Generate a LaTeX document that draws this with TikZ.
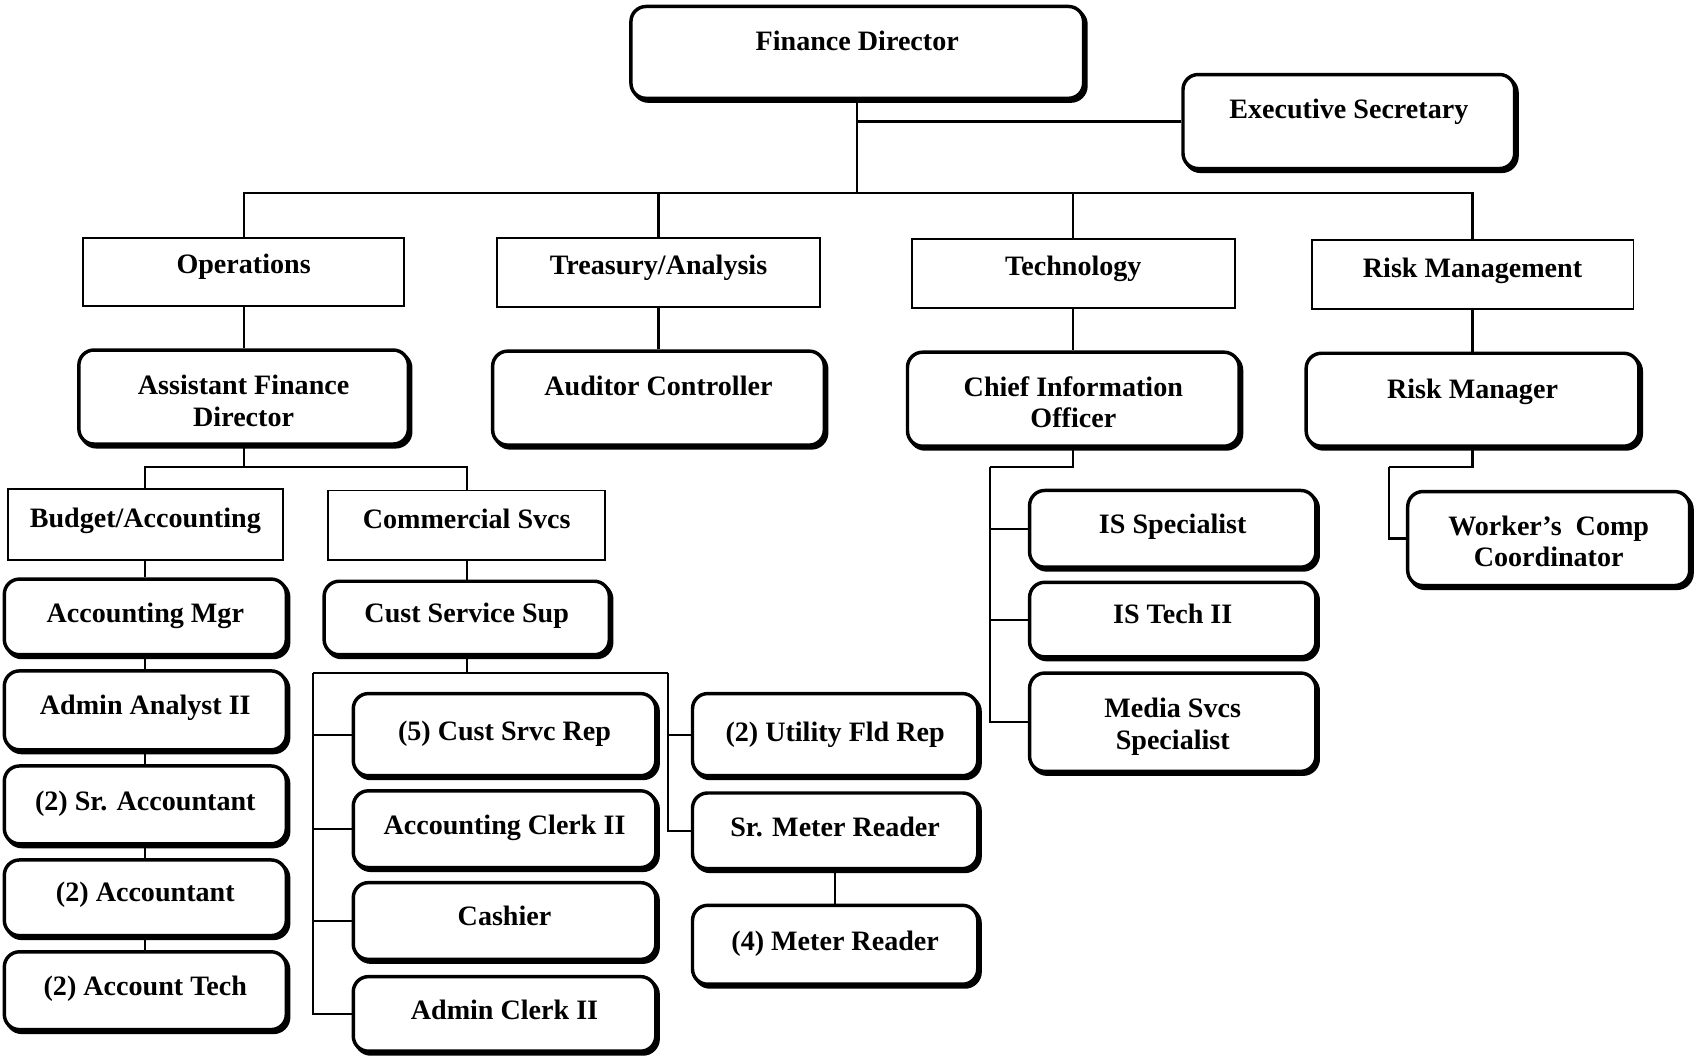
\documentclass[tikz,border=0pt]{standalone}
\usepackage{fontspec}
\setmainfont{Liberation Serif}
\usetikzlibrary{fit,shadows}
\tikzset{
  bbox/.style={draw, fill=white, line width=1.6pt, rounded corners=7pt, inner sep=0pt,
    drop shadow={shadow xshift=1.1pt, shadow yshift=-1.3pt, opacity=1, fill=black, draw=black, line width=1.6pt}},
  pbox/.style={draw, fill=white, line width=0.9pt, inner sep=0pt},
  lbl/.style={anchor=north, inner sep=0pt, align=center, font=\bfseries\fontsize{13}{14.5}\selectfont},
  conn/.style={line width=1pt}
}
\newcommand\bb[7]{%
  \node[bbox, fit={(#2,#3) (#4,#5)}] (#1) {};
  \pgfmathsetmacro\cx{(#2+#4)/2}
  \node[lbl] (#1-t) at (\cx,#6) {#7};}
\newcommand\pb[7]{%
  \node[pbox, fit={(#2,#3) (#4,#5)}] (#1) {};
  \pgfmathsetmacro\cx{(#2+#4)/2}
  \node[lbl] (#1-t) at (\cx,#6) {#7};}
\begin{document}
\begin{tikzpicture}[x=0.5pt, y=-0.5pt]
\useasboundingbox (0,0) rectangle (1568,977);
% top
\bb{fd}{584}{6}{1003}{91}{28}{Finance Director}
\bb{es}{1095}{69}{1402}{156}{91}{Executive Secretary}
% level 2
\pb{ops}{77}{220}{374}{283}{235}{Operations}
\pb{treas}{460}{220}{759}{284}{236}{Treasury/Analysis}
\pb{tech}{844}{221}{1143}{285}{237}{Technology}
\pb{riskm}{1214}{222}{1512}{286}{238}{Risk Management}
% level 3
\bb{afd}{73}{324}{378}{411}{347}{Assistant Finance\\Director}
\bb{aud}{456}{325}{763}{412}{348}{Auditor Controller}
\bb{cio}{840}{326}{1147}{413}{348}{Chief Information\\Officer}
\bb{rm}{1209}{327}{1517}{413}{350}{Risk Manager}
% operations sub
\pb{ba}{7}{453}{262}{518}{470}{Budget/Accounting}
\pb{cs}{304}{454}{560}{518}{471}{Commercial Svcs}
\bb{am}{4}{536}{265}{606}{558}{Accounting Mgr}
\bb{aa}{4}{621}{265}{694}{643}{Admin Analyst II}
\bb{sra}{4}{709}{265}{781}{732}{(2) Sr. Accountant}
\bb{acc}{4}{796}{265}{866}{816}{(2) Accountant}
\bb{at}{4}{881}{265}{953}{903}{(2) Account Tech}
\bb{css}{300}{538}{564}{606}{558}{Cust Service Sup}
\bb{csr}{327}{642}{607}{718}{667}{(5) Cust Srvc Rep}
\bb{acl}{327}{732}{607}{803}{754}{Accounting Clerk II}
\bb{cash}{327}{817}{607}{888}{838}{Cashier}
\bb{adm}{327}{904}{607}{973}{925}{Admin Clerk II}
\bb{ufr}{641}{642}{905}{718}{668}{(2) Utility Fld Rep}
\bb{smr}{641}{734}{905}{804}{756}{Sr. Meter Reader}
\bb{mr}{641}{838}{905}{911}{861}{(4) Meter Reader}
% technology sub
\bb{iss}{953}{454}{1218}{525}{475}{IS Specialist}
\bb{ist}{953}{539}{1218}{608}{559}{IS Tech II}
\bb{mss}{953}{623}{1218}{714}{646}{Media Svcs\\Specialist}
% risk sub
\bb{wc}{1303}{455}{1564}{542}{477}{Worker’s~\ Comp\\Coordinator}
% bus coordinates
\coordinate (busTop) at (794,179);
\coordinate (busA) at (226,432);
\coordinate (cL) at (290,623);
\coordinate (cR) at (618,623);
\coordinate (tL) at (916,432);
\coordinate (rL) at (1286,432);
% connectors
\draw[conn] (fd.south) -- (fd.south |- busTop);
\draw[conn] (fd.south |- es.west) -- (es.west);
\draw[conn] (ops.north) -- (ops.north |- busTop) -| (riskm.north);
\draw[conn] (treas.north) -- (treas.north |- busTop);
\draw[conn] (tech.north) -- (tech.north |- busTop);
\draw[conn] (ops.south) -- (afd.north);
\draw[conn] (treas.south) -- (aud.north);
\draw[conn] (tech.south) -- (cio.north);
\draw[conn] (riskm.south) -- (rm.north);
\draw[conn] (afd.south) -- (afd.south |- busA);
\draw[conn] (ba.north) -- (ba.north |- busA) -| (cs.north);
\draw[conn] (ba.south) -- (am.north);
\draw[conn] (am.south) -- (aa.north);
\draw[conn] (aa.south) -- (sra.north);
\draw[conn] (sra.south) -- (acc.north);
\draw[conn] (acc.south) -- (at.north);
\draw[conn] (cs.south) -- (css.north);
\draw[conn] (css.south) -- (css.south |- cL);
\draw[conn] (cL) -- (cR);
\draw[conn] (cL) |- (adm.west);
\draw[conn] (cL |- csr.west) -- (csr.west);
\draw[conn] (cL |- acl.west) -- (acl.west);
\draw[conn] (cL |- cash.west) -- (cash.west);
\draw[conn] (cR) |- (smr.west);
\draw[conn] (cR |- ufr.west) -- (ufr.west);
\draw[conn] (smr.south) -- (mr.north);
\draw[conn] (cio.south) |- (tL);
\draw[conn] (tL) |- (mss.west);
\draw[conn] (tL |- iss.west) -- (iss.west);
\draw[conn] (tL |- ist.west) -- (ist.west);
\draw[conn] (rm.south) |- (rL);
\draw[conn] (rL) |- (wc.west);
\end{tikzpicture}
\end{document}
